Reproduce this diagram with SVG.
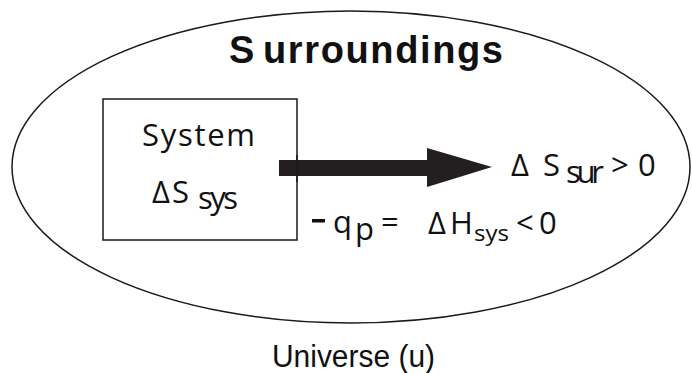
<svg xmlns="http://www.w3.org/2000/svg" width="692" height="373" viewBox="0 0 692 373">
<style>
.h{font-family:"Liberation Sans",Arial,sans-serif;font-weight:bold;font-size:38px;fill:#111}
.m{font-family:"Open Sans","Noto Sans",sans-serif;font-size:31px;fill:#111}
.c{font-family:"Liberation Sans",Arial,sans-serif;font-size:31px;fill:#111}
.line{fill:none;stroke:#1a1a1a;stroke-width:1.5}
</style>
<rect width="692" height="373" fill="#fff"/>
<g id="universe">
<ellipse class="line" cx="351" cy="167" rx="339" ry="156"/>
<text class="h" x="229" y="63">S</text>
<text class="h" x="263" y="63" textLength="240" lengthAdjust="spacing">urroundings</text>
<text class="c" x="272" y="367" textLength="163" lengthAdjust="spacingAndGlyphs">Universe (u)</text>
</g>
<g id="system">
<rect class="line" x="103" y="99" width="194" height="141"/>
<text class="m" x="142" y="146" textLength="113" lengthAdjust="spacing">System</text>
<text class="m" x="152" y="203">Δ</text>
<text class="m" x="172" y="203">S</text>
<text class="m" x="198" y="209" font-size="25" textLength="40" lengthAdjust="spacing">sys</text>
</g>
<g id="connectors">
<polygon points="279,160 427,160 427,148 492,167 427,187 427,176 279,176" fill="#231f20"/>
<line class="line" x1="297" y1="155" x2="297" y2="182"/>
</g>
<g id="labels">
<text class="m" x="511" y="176">Δ</text>
<text class="m" x="543" y="176">S</text>
<text class="m" x="566" y="183" font-size="25" textLength="38" lengthAdjust="spacing">sur</text>
<text class="m" x="611" y="176">&gt;</text>
<text class="m" x="638" y="176">0</text>
<rect x="312" y="219" width="13" height="3.5" fill="#111"/>
<text class="m" x="333" y="233" font-size="29">q</text>
<text class="m" x="355" y="240" font-size="24">p</text>
<text class="m" x="381" y="233" font-size="29">=</text>
<text class="m" x="428" y="234" font-size="28">Δ</text>
<text class="m" x="450" y="234" font-size="28">H<tspan x="474" y="241" font-size="21" textLength="35" lengthAdjust="spacingAndGlyphs">sys</tspan><tspan x="516" y="234">&lt;</tspan><tspan x="539" y="234">0</tspan></text>
</g>
</svg>
